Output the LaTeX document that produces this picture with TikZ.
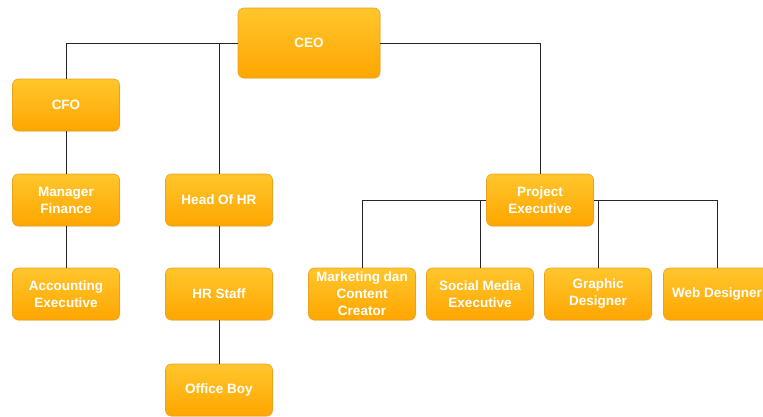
\documentclass[tikz,border=0pt]{standalone}
\usepackage{fontspec}
\setmainfont{Liberation Sans}
\usepackage{tikz}
\usetikzlibrary{shadows}
\definecolor{boxtop}{HTML}{FFC62C}
\definecolor{boxbot}{HTML}{FFA600}
\definecolor{boxedge}{HTML}{EBA11E}

\begin{document}
\begin{tikzpicture}[x=1pt,y=-1pt,
	box/.style={rectangle,rounded corners=6pt,draw=boxedge,line width=0.6pt,
		top color=boxtop,bottom color=boxbot,text=white,align=center,
		font=\bfseries\fontsize{13.5}{17}\selectfont,
		minimum width=107pt,minimum height=52pt,inner sep=1pt,
		drop shadow={opacity=0.12,shadow xshift=1pt,shadow yshift=-1pt}},
	link/.style={draw=black!85,line width=0.9pt}
	]
	\useasboundingbox (0,0) rectangle (763,416);
	% top
	\node[box,minimum width=142pt,minimum height=70pt] (ceo) at (309,43) {CEO};
	% finance
	\node[box] (cfo) at (66,105) {CFO};
	\node[box] (mf)  at (66,200) {Manager\\Finance};
	\node[box] (acc) at (66,294) {Accounting\\Executive};
	% hr
	\node[box] (hr)  at (219,200) {Head Of HR};
	\node[box] (hrs) at (219,294) {HR Staff};
	\node[box] (ob)  at (219,390) {Office Boy};
	% project
	\node[box] (pe)  at (540,200) {Project\\Executive};
	\node[box] (mkt) at (362,294) {Marketing dan\\Content\\Creator};
	\node[box] (sm)  at (480,294) {Social Media\\Executive};
	\node[box] (gd)  at (598,294) {Graphic\\Designer};
	\node[box] (wd)  at (717,294) {Web Designer};

	\draw[link] (ceo.west) -| (cfo.north);
	\draw[link] (hr.north |- ceo.west) -- (hr.north);
	\draw[link] (ceo.east) -| (pe.north);
	\draw[link] (cfo) -- (mf);
	\draw[link] (mf) -- (acc);
	\draw[link] (hr) -- (hrs);
	\draw[link] (hrs) -- (ob);
	\draw[link] (pe.west) -| (mkt.north);
	\draw[link] (sm.north |- pe.west) -- (sm.north);
	\draw[link] (pe.east) -| (wd.north);
	\draw[link] (gd.north |- pe.east) -- (gd.north);
\end{tikzpicture}
\end{document}
